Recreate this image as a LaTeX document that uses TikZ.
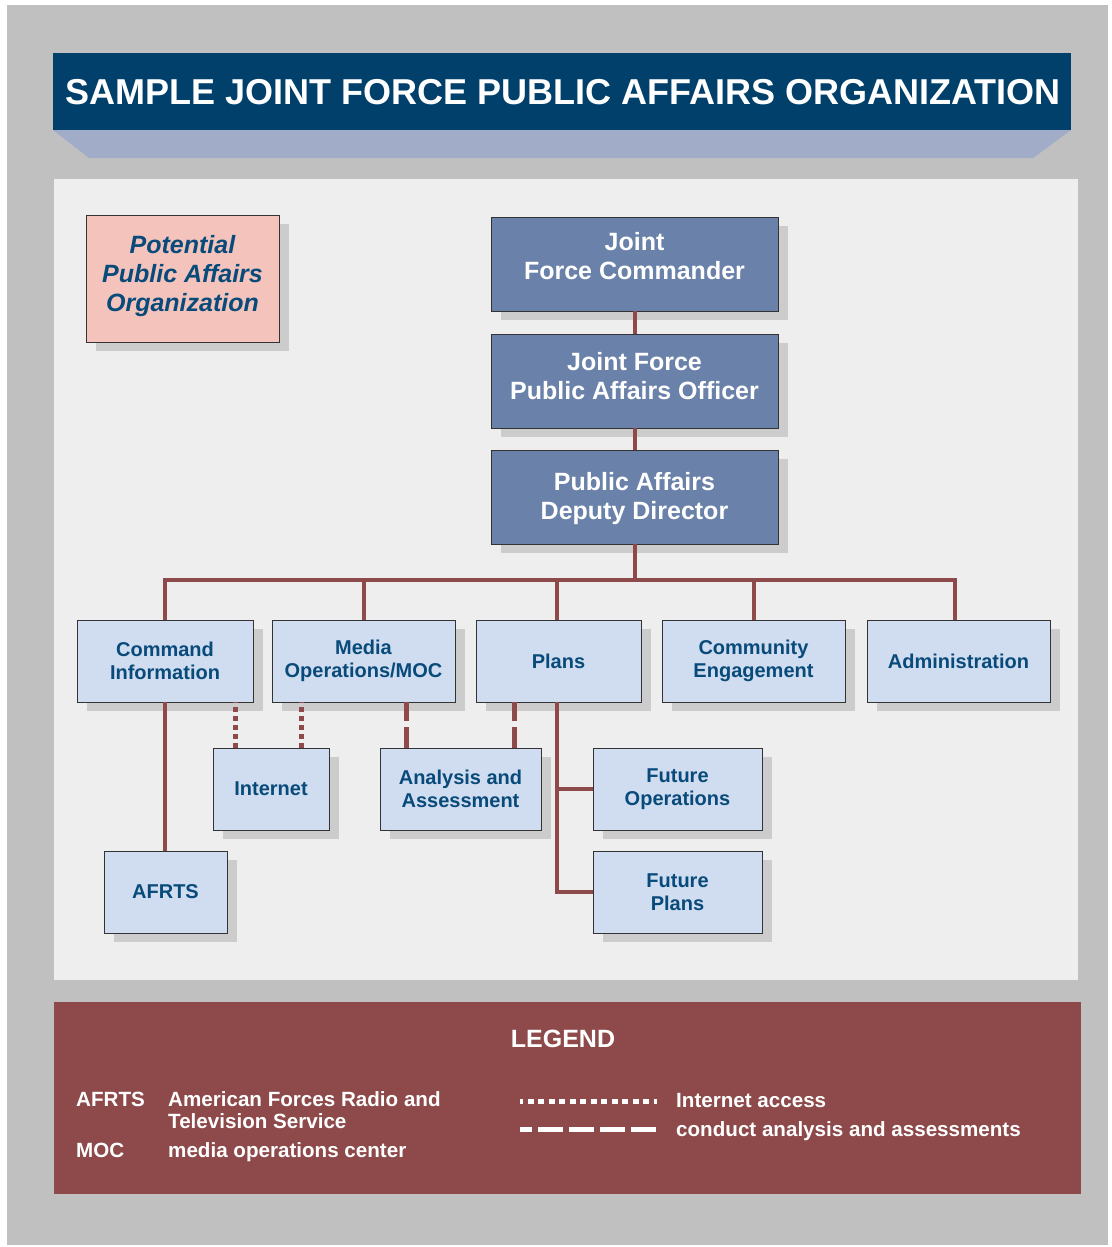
\documentclass[tikz,border=0pt]{standalone}
\usepackage{fontspec}
\setmainfont{Liberation Sans}
\usetikzlibrary{shadows}
\definecolor{bggray}{RGB}{192,192,192}
\definecolor{panel}{RGB}{238,238,238}
\definecolor{titleblue}{RGB}{0,64,107}
\definecolor{trap}{RGB}{160,172,200}
\definecolor{darkbox}{RGB}{106,130,170}
\definecolor{lightbox}{RGB}{208,220,239}
\definecolor{pinkbox}{RGB}{244,196,188}
\definecolor{conncol}{RGB}{142,74,74}
\definecolor{textblue}{RGB}{8,74,122}
\definecolor{shadowgray}{RGB}{204,204,204}
\begin{document}
\begin{tikzpicture}[x=1pt,y=-1pt,
  basebox/.style={draw=black!80, line width=0.8pt, align=center, inner sep=0pt,
    drop shadow={fill=shadowgray, opacity=1, shadow xshift=10pt, shadow yshift=-9pt}},
  lbox/.style={basebox, fill=lightbox, text=textblue, font=\bfseries\fontsize{20}{23}\selectfont, minimum height=82pt},
  dbox/.style={basebox, fill=darkbox, minimum width=287pt, minimum height=94pt},
  dtext/.style={text=white, font=\bfseries\fontsize{25}{29}\selectfont, align=center, inner sep=0pt},
  conn/.style={draw=conncol, line width=4pt},
  dotconn/.style={draw=conncol, line width=5pt, dash pattern=on 5pt off 4pt},
  dashconn/.style={draw=conncol, line width=5pt, dash pattern=on 21pt off 6pt},
  legtext/.style={text=white, font=\bfseries\fontsize{20.6}{23}\selectfont, inner sep=0pt, anchor=base west}
  ]
\useasboundingbox (0,0) rectangle (1111,1247);
\fill[white] (0,0) rectangle (1111,1247);
\fill[bggray] (7,5) rectangle (1108,1245);
% title
\fill[trap] (53,130) -- (1071,130) -- (1033,158) -- (89,158) -- cycle;
\fill[titleblue] (53,53) rectangle (1071,130);
\node[text=white, font=\bfseries\fontsize{36}{40}\selectfont, inner sep=0pt] (title) at (563,92) {SAMPLE JOINT FORCE PUBLIC AFFAIRS ORGANIZATION};
% panel
\fill[panel] (54,179) rectangle (1078,980);
% legend panel
\fill[conncol] (54,1002) rectangle (1081,1194);

% boxes
\node[basebox, fill=pinkbox, minimum width=193pt, minimum height=127pt] (pot) at (182.5,278.5) {};
\node[text=textblue, font=\bfseries\itshape\fontsize{25}{29}\selectfont, align=center, inner sep=0pt] (pott) at (182.5,276.5) {Potential\\Public Affairs\\Organization};
\node[dbox] (jfc) at (634.5,264) {};
\node[dtext] (jfct) at (634.5,256.5) {Joint\\Force Commander};
\node[dbox] (jfpao) at (634.5,381) {};
\node[dtext] (jfpaot) at (634.5,376.5) {Joint Force\\Public Affairs Officer};
\node[dbox] (padd) at (634.5,497) {};
\node[dtext] (paddt) at (634.5,499) {Public Affairs\\Deputy Director};

\node[lbox, minimum width=176pt] (ci) at (165,661) {Command\\Information};
\node[lbox, minimum width=183pt] (media) at (363.5,661) {Media\\Operations/MOC};
\node[lbox, minimum width=165pt] (plans) at (558.5,661) {Plans};
\node[lbox, minimum width=183pt] (comm) at (753.5,661) {Community\\Engagement};
\node[lbox, minimum width=183pt] (admin) at (958.5,661) {Administration};

\node[lbox, minimum width=116pt] (internet) at (271,789) {Internet};
\node[lbox, minimum width=161pt] (analysis) at (460.5,789) {Analysis and\\Assessment};
\node[lbox, minimum width=169pt] (futops) at (677.5,789) {Future\\Operations};
\node[lbox, minimum width=169pt] (futplans) at (677.5,892) {Future\\Plans};
\node[lbox, minimum width=123pt] (afrts) at (165.5,892) {AFRTS};

% connectors
\coordinate (bus) at (0,580);
\draw[conn] (jfc.south) -- (jfpao.north);
\draw[conn] (jfpao.south) -- (padd.north);
\draw[conn] (padd.south) -- (padd.south |- bus);
\draw[conn, line cap=rect] (ci.north |- bus) -- ([xshift=-4pt]admin.north |- bus);
\draw[conn] (ci.north) -- (ci.north |- bus);
\draw[conn] (media.north) -- (media.north |- bus);
\draw[conn] ([xshift=-1.5pt]plans.north) -- ([xshift=-1.5pt]plans.north |- bus);
\draw[conn] (comm.north) -- (comm.north |- bus);
\draw[conn] ([xshift=-4pt]admin.north) -- ([xshift=-4pt]admin.north |- bus);

\draw[conn] (ci.south) -- (ci.south |- afrts.north);
\draw[conn] ([xshift=-1.5pt]plans.south) |- (futplans.west);
\draw[conn] ([xshift=-1.5pt]plans.south |- futops.west) -- (futops.west);

\draw[dotconn] ([xshift=23pt]internet.north west) -- ([xshift=23pt]internet.north west |- ci.south);
\draw[dotconn] ([xshift=-28pt]internet.north east) -- ([xshift=-28pt]internet.north east |- media.south);
\draw[dashconn] ([xshift=27pt]analysis.north west) -- ([xshift=27pt]analysis.north west |- media.south);
\draw[dashconn] ([xshift=-27pt]analysis.north east) -- ([xshift=-27pt]analysis.north east |- plans.south);

% legend
\node[text=white, font=\bfseries\fontsize{25}{29}\selectfont, inner sep=0pt] (legend) at (563,1039) {LEGEND};
\node[legtext] (l1a) at (76,1106) {AFRTS};
\node[legtext] (l1b) at (168,1106) {American Forces Radio and};
\node[legtext] (l1c) at (168,1128) {Television Service};
\node[legtext] (l2a) at (76,1157) {MOC};
\node[legtext] (l2b) at (168,1157) {media operations center};
\coordinate (d1s) at (520,1101);
\coordinate (d1e) at (657,1101);
\coordinate (d2s) at (520,1129);
\coordinate (d2e) at (657,1129);
\draw[white, line width=5pt, dash pattern=on 6pt off 4.5pt, dash phase=3pt] (d1s) -- (d1e);
\draw[white, line width=5pt, dash pattern=on 25pt off 6pt, dash phase=13pt] (d2s) -- (d2e);
\node[legtext] (l3) at (676,1107) {Internet access};
\node[legtext] (l4) at (676,1136) {conduct analysis and assessments};
\end{tikzpicture}
\end{document}
